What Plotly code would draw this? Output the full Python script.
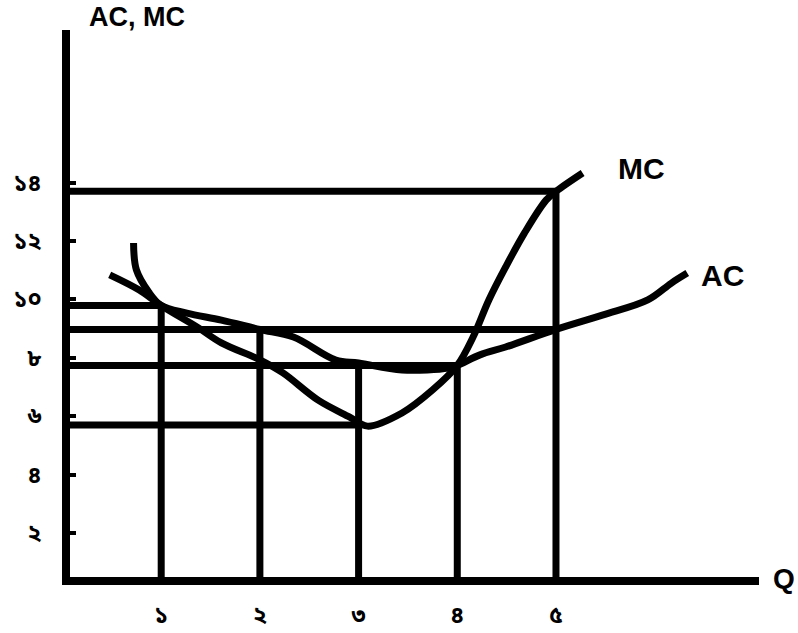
import plotly.graph_objects as go

# ---- data ----
q_tick_vals = [1, 2, 3, 4, 5]
q_tick_text = ["১", "২", "৩", "৪", "৫"]
y_tick_vals = [2, 4, 6, 8, 10, 12, 14]
y_tick_text = ["২", "৪", "৬", "৮", "১০", "১২", "১৪"]

ac_q = [0.72, 0.749, 0.874, 1.0, 1.26, 1.61, 2.0, 2.34, 2.77, 3.0, 3.44, 3.91, 4.0, 4.23, 4.49, 5.0, 5.47, 5.93, 6.17, 6.33]
ac_v = [11.93, 11.01, 10.25, 9.79, 9.53, 9.29, 8.97, 8.71, 7.92, 7.82, 7.58, 7.65, 7.74, 8.10, 8.37, 8.97, 9.46, 9.98, 10.56, 10.90]

mc_q = [0.478, 0.778, 1.0, 1.366, 1.61, 2.0, 2.23, 2.59, 2.91, 3.09, 3.44, 3.75, 4.0, 4.16, 4.32, 4.49, 4.68, 4.90, 5.0, 5.27]
mc_v = [10.84, 10.32, 9.79, 9.05, 8.51, 7.93, 7.49, 6.55, 5.97, 5.66, 6.11, 6.90, 7.74, 8.71, 9.98, 11.11, 12.27, 13.40, 13.70, 14.33]

# vertical guide lines: quantity and the cost level where each stops
vert_q = [1, 2, 3, 4, 5]
vert_top = [9.79, 8.97, 7.74, 7.74, 13.70]
# horizontal guide lines: cost level and quantity where each stops
horiz_level = [9.79, 8.97, 7.74, 5.70, 13.70]
horiz_end_q = [1, 5, 4, 3, 5]

x_range = [0.076, 7.057]
y_range = [0.493, 19.226]

# ---- build figure ----
fig = go.Figure()

vx, vy = [], []
for q, top in zip(vert_q, vert_top):
    vx += [q, q, None]
    vy += [y_range[0], top, None]
hx, hy = [], []
for lev, qe in zip(horiz_level, horiz_end_q):
    hx += [x_range[0], qe, None]
    hy += [lev, lev, None]

line_style = dict(color="black", width=7)
fig.add_trace(go.Scatter(x=vx, y=vy, mode="lines", line=line_style, hoverinfo="skip"))
fig.add_trace(go.Scatter(x=hx, y=hy, mode="lines", line=line_style, hoverinfo="skip"))
fig.add_trace(go.Scatter(x=ac_q, y=ac_v, mode="lines", name="AC",
                         line=dict(color="black", width=7, shape="spline", smoothing=1.0)))
fig.add_trace(go.Scatter(x=mc_q, y=mc_v, mode="lines", name="MC",
                         line=dict(color="black", width=7, shape="spline", smoothing=1.0)))

W, H = 798, 633
ML, MR, MT, MB = 70, 39, 30, 56
pw, ph = W - ML - MR, H - MT - MB


def px(xw, yw):
    """window pixel -> paper coords"""
    return (xw - ML) / pw, (H - MB - yw) / ph


labels = [("AC, MC", 137, 0, "top", 27), ("MC", 641, 168, "middle", 30),
          ("AC", 722, 275, "middle", 30), ("Q", 784, 578, "middle", 28)]
for txt, xw, yw, ya, fs in labels:
    ax_, ay_ = px(xw, yw)
    fig.add_annotation(xref="paper", yref="paper", x=ax_, y=ay_, text="<b>" + txt + "</b>",
                       showarrow=False, xanchor="center", yanchor=ya,
                       font=dict(family="Liberation Sans, Arial, sans-serif", size=fs, color="black"))

tick_font = dict(family="Noto Sans Bengali, Lohit Bengali, FreeSans, Noto Sans, sans-serif", size=23, color="black")
common = dict(showline=True, linecolor="black", linewidth=8, showgrid=False, zeroline=False,
              tickmode="array", ticks="inside", ticklen=6, tickwidth=4, tickcolor="black",
              tickfont=tick_font, automargin=False)
fig.update_xaxes(range=x_range, tickvals=q_tick_vals,
                 ticktext=["<b>" + t + "</b>" for t in q_tick_text], ticklabelstandoff=10, **common)
fig.update_yaxes(range=y_range, tickvals=y_tick_vals,
                 ticktext=["<b>" + t + "</b>" for t in y_tick_text], ticklabelstandoff=16, **common)

fig.update_layout(width=W, height=H, showlegend=False,
                  plot_bgcolor="white", paper_bgcolor="white",
                  margin=dict(l=ML, r=MR, t=MT, b=MB, autoexpand=False))

fig.write_html("out.html", config={"displayModeBar": False},
               post_script="document.body.style.margin='0';document.body.style.overflow='hidden';")
